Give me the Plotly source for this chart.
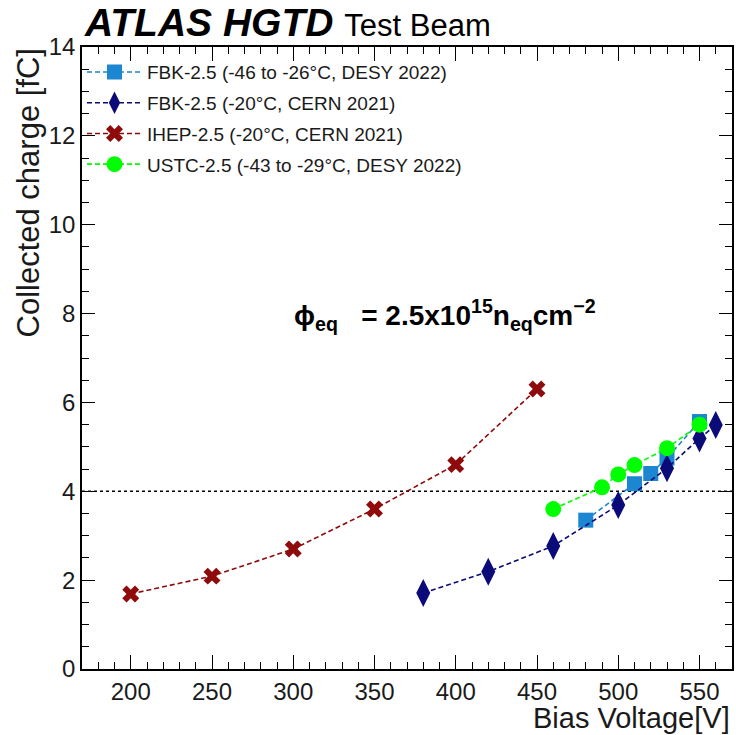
import plotly.graph_objects as go

# ---- data ----
fbk22_v = [480, 510, 520, 530, 550]
fbk22_q = [3.35, 4.17, 4.4, 4.75, 5.57]

fbk21_v = [380, 420, 460, 500, 530, 550, 560]
fbk21_q = [1.71, 2.19, 2.77, 3.69, 4.52, 5.19, 5.49]

ihep_v = [200, 250, 300, 350, 400, 450]
ihep_q = [1.69, 2.09, 2.7, 3.6, 4.6, 6.3]

ustc_v = [460, 490, 500, 510, 530, 550]
ustc_q = [3.6, 4.09, 4.38, 4.59, 4.97, 5.5]

names = [
    "FBK-2.5 (-46 to -26°C, DESY 2022)",
    "FBK-2.5 (-20°C, CERN 2021)",
    "IHEP-2.5 (-20°C, CERN 2021)",
    "USTC-2.5 (-43 to -29°C, DESY 2022)",
]
threshold = 4.0
x_range = [170, 570]
y_range = [0, 14]

FONT = "Liberation Sans, Arial, Helvetica, sans-serif"

fig = go.Figure()
specs = [
    (fbk22_v, fbk22_q, names[0], "#1c86d1", "square", 15),
    (fbk21_v, fbk21_q, names[1], "#0a0a78", "diamond-tall", 20),
    (ihep_v, ihep_q, names[2], "#8f0a0a", "x", 15),
    (ustc_v, ustc_q, names[3], "#00ff00", "circle", 16),
]
for i, (xv, yv, nm, col, sym, sz) in enumerate(specs):
    fig.add_trace(go.Scatter(
        x=xv, y=yv, name=nm, mode="lines+markers",
        legendgroup=f"g{i}",
        line=dict(color=col, width=1.6, dash="5px,3px"),
        marker=dict(color=col, symbol=sym, size=sz, line=dict(width=0)),
    ))

fig.add_hline(y=threshold, line=dict(color="black", width=1.5, dash="dot"), layer="below")

axis_common = dict(
    showgrid=False, zeroline=False, showline=True, linecolor="black", linewidth=1.5,
    mirror="ticks", ticks="inside", tickcolor="black", tickwidth=1.2,
    tickfont=dict(family=FONT, size=24, color="#1a1a1a"),
)
fig.update_xaxes(range=x_range, tickmode="linear", tick0=200, dtick=50, ticklen=14,
                 minor=dict(ticks="inside", dtick=10, ticklen=7, tickcolor="black", tickwidth=1.2),
                 **axis_common)
fig.update_yaxes(range=y_range, tickmode="linear", tick0=0, dtick=2, ticklen=13,
                 minor=dict(ticks="inside", dtick=0.5, ticklen=7, tickcolor="black", tickwidth=1.2),
                 **axis_common)

annotations = [
    dict(text="<b><i>ATLAS HGTD</i></b> <span style='font-size:31px'>Test Beam</span>",
         xref="paper", yref="paper", x=0.0, y=1.0, yshift=1, xanchor="left", yanchor="bottom",
         showarrow=False, font=dict(family=FONT, size=39, color="black")),
    dict(text="Collected charge [fC]", xref="paper", yref="paper", x=0, xshift=-54, y=1.0,
         xanchor="center", yanchor="top", textangle=-90, showarrow=False,
         font=dict(family=FONT, size=31, color="#1a1a1a")),
    dict(text="Bias Voltage[V]", xref="paper", yref="paper", x=1.0, y=0, yshift=-31,
         xanchor="right", yanchor="top", showarrow=False,
         font=dict(family=FONT, size=29, color="#1a1a1a")),
    dict(text="<b>ϕ<sub>eq</sub>&nbsp;&nbsp; = 2.5x10<sup>15</sup>n<sub>eq</sub>cm<sup>−2</sup></b>",
         xref="paper", yref="paper", x=0.558, y=0.569, xanchor="center", yanchor="middle",
         showarrow=False, font=dict(family=FONT, size=28, color="black")),
]

fig.update_layout(
    width=736, height=735,
    margin=dict(l=82, r=2, t=47, b=66),
    plot_bgcolor="white", paper_bgcolor="white",
    annotations=annotations,
    showlegend=True,
    legend=dict(x=0.0, y=0.99, xanchor="left", yanchor="top",
                bgcolor="rgba(0,0,0,0)", borderwidth=0, tracegroupgap=3, itemwidth=55,
                font=dict(family=FONT, size=19, color="#1a1a1a")),
)

fig.write_html("out.html", config={"displayModeBar": False},
               post_script="document.body.style.margin='0';")
